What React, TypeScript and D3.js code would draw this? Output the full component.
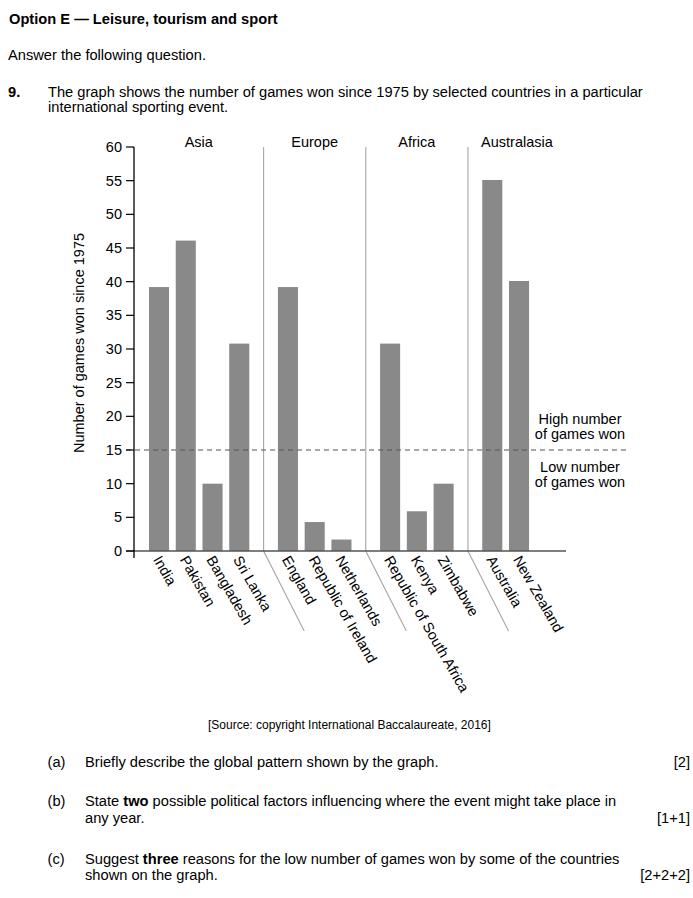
import React from "react";
import * as d3 from "d3";

const countries = [
  "India", "Pakistan", "Bangladesh", "Sri Lanka",
  "England", "Republic of Ireland", "Netherlands",
  "Republic of South Africa", "Kenya", "Zimbabwe",
  "Australia", "New Zealand",
];
const regionOf = [
  "Asia", "Asia", "Asia", "Asia",
  "Europe", "Europe", "Europe",
  "Africa", "Africa", "Africa",
  "Australasia", "Australasia",
];
const gamesWon = [39.2, 46.1, 10, 30.8, 39.2, 4.3, 1.7, 30.8, 5.9, 10, 55.1, 40.1];
const regions = ["Asia", "Europe", "Africa", "Australasia"];
const yTicks = [0, 5, 10, 15, 20, 25, 30, 35, 40, 45, 50, 55, 60];
const threshold = 15;
const yTitle = "Number of games won since 1975";
const aboveLabel = ["High number", "of games won"];
const belowLabel = ["Low number", "of games won"];

const FONT = "'Liberation Sans', Arial, Helvetica, sans-serif";
const CF = 14.5; // chart font size
const BF = 14.67; // body font size

const W = 693;
const H = 898;
const axisX = 134;
const plotRight = 566;
const yTop = 147;
const yBottom = 551;
const gapSlots = 0.82;
const firstBarLeft = 149;
const lastBarLeft = 509;
const barFrac = 0.75;

export default function App() {
  const regionIndex = regionOf.map((r) => regions.indexOf(r));
  const slots = countries.map((_, i) => i + regionIndex[i] * gapSlots);
  const x = d3
    .scaleLinear()
    .domain([0, d3.max(slots) as number])
    .range([firstBarLeft, lastBarLeft]);
  const step = x(1) - x(0);
  const bw = step * barFrac;
  const y = d3.scaleLinear().domain([0, 60]).range([yBottom, yTop]);

  // separators between regions
  const seps: number[] = [];
  for (let g = 1; g < regions.length; g++) {
    const prevLast = countries.findIndex((_, i) => regionIndex[i] === g) - 1;
    const nextFirst = prevLast + 1;
    seps.push((x(slots[prevLast]) + bw + x(slots[nextFirst])) / 2);
  }
  const bounds = [axisX, ...seps, plotRight];
  const diagDx = 40.6;
  const diagBottom = 631;

  const yThr = y(threshold);
  const annX = 580;

  return (
    <svg
      width={W}
      height={H}
      viewBox={`0 0 ${W} ${H}`}
      style={{ position: "absolute", left: 0, top: 0, display: "block", background: "#fff" }}
      fontFamily={FONT}
    >
      <rect x={0} y={0} width={W} height={H} fill="#fff" />
      {/* Header text */}
      <text x={9} y={24} fontSize={BF} fontWeight="bold" fill="#000">
        Option E — Leisure, tourism and sport
      </text>
      <text x={8} y={59.5} fontSize={BF} fill="#000">
        Answer the following question.
      </text>
      <text x={8} y={97} fontSize={BF} fontWeight="bold" fill="#000">9.</text>
      <text x={48} y={97} fontSize={BF} fill="#000">
        The graph shows the number of games won since 1975 by selected countries in a particular
      </text>
      <text x={48} y={112} fontSize={BF} fill="#000">
        international sporting event.
      </text>

      {/* Separators */}
      {seps.map((s, k) => (
        <path
          key={`sep${k}`}
          d={`M${s},${yTop}V${yBottom}L${s + diagDx},${diagBottom}`}
          fill="none"
          stroke="#a6a6a6"
          strokeWidth={1.1}
        />
      ))}

      {/* Bars */}
      {gamesWon.map((v, i) => (
        <rect
          key={countries[i]}
          x={x(slots[i])}
          y={y(v)}
          width={bw}
          height={y(0) - y(v)}
          fill="#898989"
        />
      ))}

      {/* Threshold dashed line */}
      <line
        x1={axisX - 8}
        x2={630}
        y1={yThr}
        y2={yThr}
        stroke="#555"
        strokeWidth={1.2}
        strokeDasharray="5,4"
      />

      {/* Baseline */}
      <line x1={axisX - 8} x2={plotRight} y1={y(0)} y2={y(0)} stroke="#555" strokeWidth={1.3} />

      {/* Y axis */}
      <line x1={axisX} x2={axisX} y1={yTop} y2={yBottom + 7} stroke="#000" strokeWidth={1.3} />
      {yTicks.map((t) => (
        <g key={t}>
          <line x1={axisX - 8} x2={axisX} y1={y(t)} y2={y(t)} stroke="#000" strokeWidth={1.2} />
          <text
            x={axisX - 12}
            y={y(t)}
            dy="0.35em"
            textAnchor="end"
            fontSize={CF}
            fill="#000"
          >
            {t}
          </text>
        </g>
      ))}
      <text
        transform={`translate(79,${(yTop + yBottom) / 2 - 6}) rotate(-90)`}
        textAnchor="middle"
        dy="0.35em"
        fontSize={CF}
        fill="#000"
      >
        {yTitle}
      </text>

      {/* Region labels */}
      {regions.map((r, g) => (
        <text
          key={r}
          x={(bounds[g] + bounds[g + 1]) / 2}
          y={yTop}
          textAnchor="middle"
          fontSize={CF}
          fill="#000"
        >
          {r}
        </text>
      ))}

      {/* Country labels */}
      {countries.map((c, i) => {
        const cx = x(slots[i]) + bw / 2 - 2;
        return (
          <text
            key={`lab${c}`}
            transform={`translate(${cx},557) rotate(60)`}
            dy="0.35em"
            fontSize={CF}
            fill="#000"
          >
            {c}
          </text>
        );
      })}

      {/* Threshold annotations */}
      {aboveLabel.map((l, k) => (
        <text key={`a${k}`} x={annX} y={yThr - 26 + k * 15} textAnchor="middle" fontSize={CF} fill="#000">
          {l}
        </text>
      ))}
      {belowLabel.map((l, k) => (
        <text key={`b${k}`} x={annX} y={yThr + 22 + k * 15} textAnchor="middle" fontSize={CF} fill="#000">
          {l}
        </text>
      ))}

      {/* Source */}
      <text x={208} y={729} fontSize={12} fill="#000">
        [Source: copyright International Baccalaureate, 2016]
      </text>

      {/* Questions */}
      <text x={47.5} y={767} fontSize={BF} fill="#000">(a)</text>
      <text x={85} y={767} fontSize={BF} fill="#000">
        Briefly describe the global pattern shown by the graph.
      </text>
      <text x={690} y={767} fontSize={BF} textAnchor="end" fill="#000">[2]</text>

      <text x={47.5} y={806} fontSize={BF} fill="#000">(b)</text>
      <text x={85} y={806} fontSize={BF} fill="#000">
        State <tspan fontWeight="bold">two</tspan> possible political factors influencing where the event might take place in
      </text>
      <text x={85} y={823} fontSize={BF} fill="#000">any year.</text>
      <text x={690} y={823} fontSize={BF} textAnchor="end" fill="#000">[1+1]</text>

      <text x={47.5} y={864} fontSize={BF} fill="#000">(c)</text>
      <text x={85} y={864} fontSize={BF} fill="#000">
        Suggest <tspan fontWeight="bold">three</tspan> reasons for the low number of games won by some of the countries
      </text>
      <text x={85} y={880} fontSize={BF} fill="#000">shown on the graph.</text>
      <text x={690} y={880} fontSize={BF} textAnchor="end" fill="#000">[2+2+2]</text>
    </svg>
  );
}
